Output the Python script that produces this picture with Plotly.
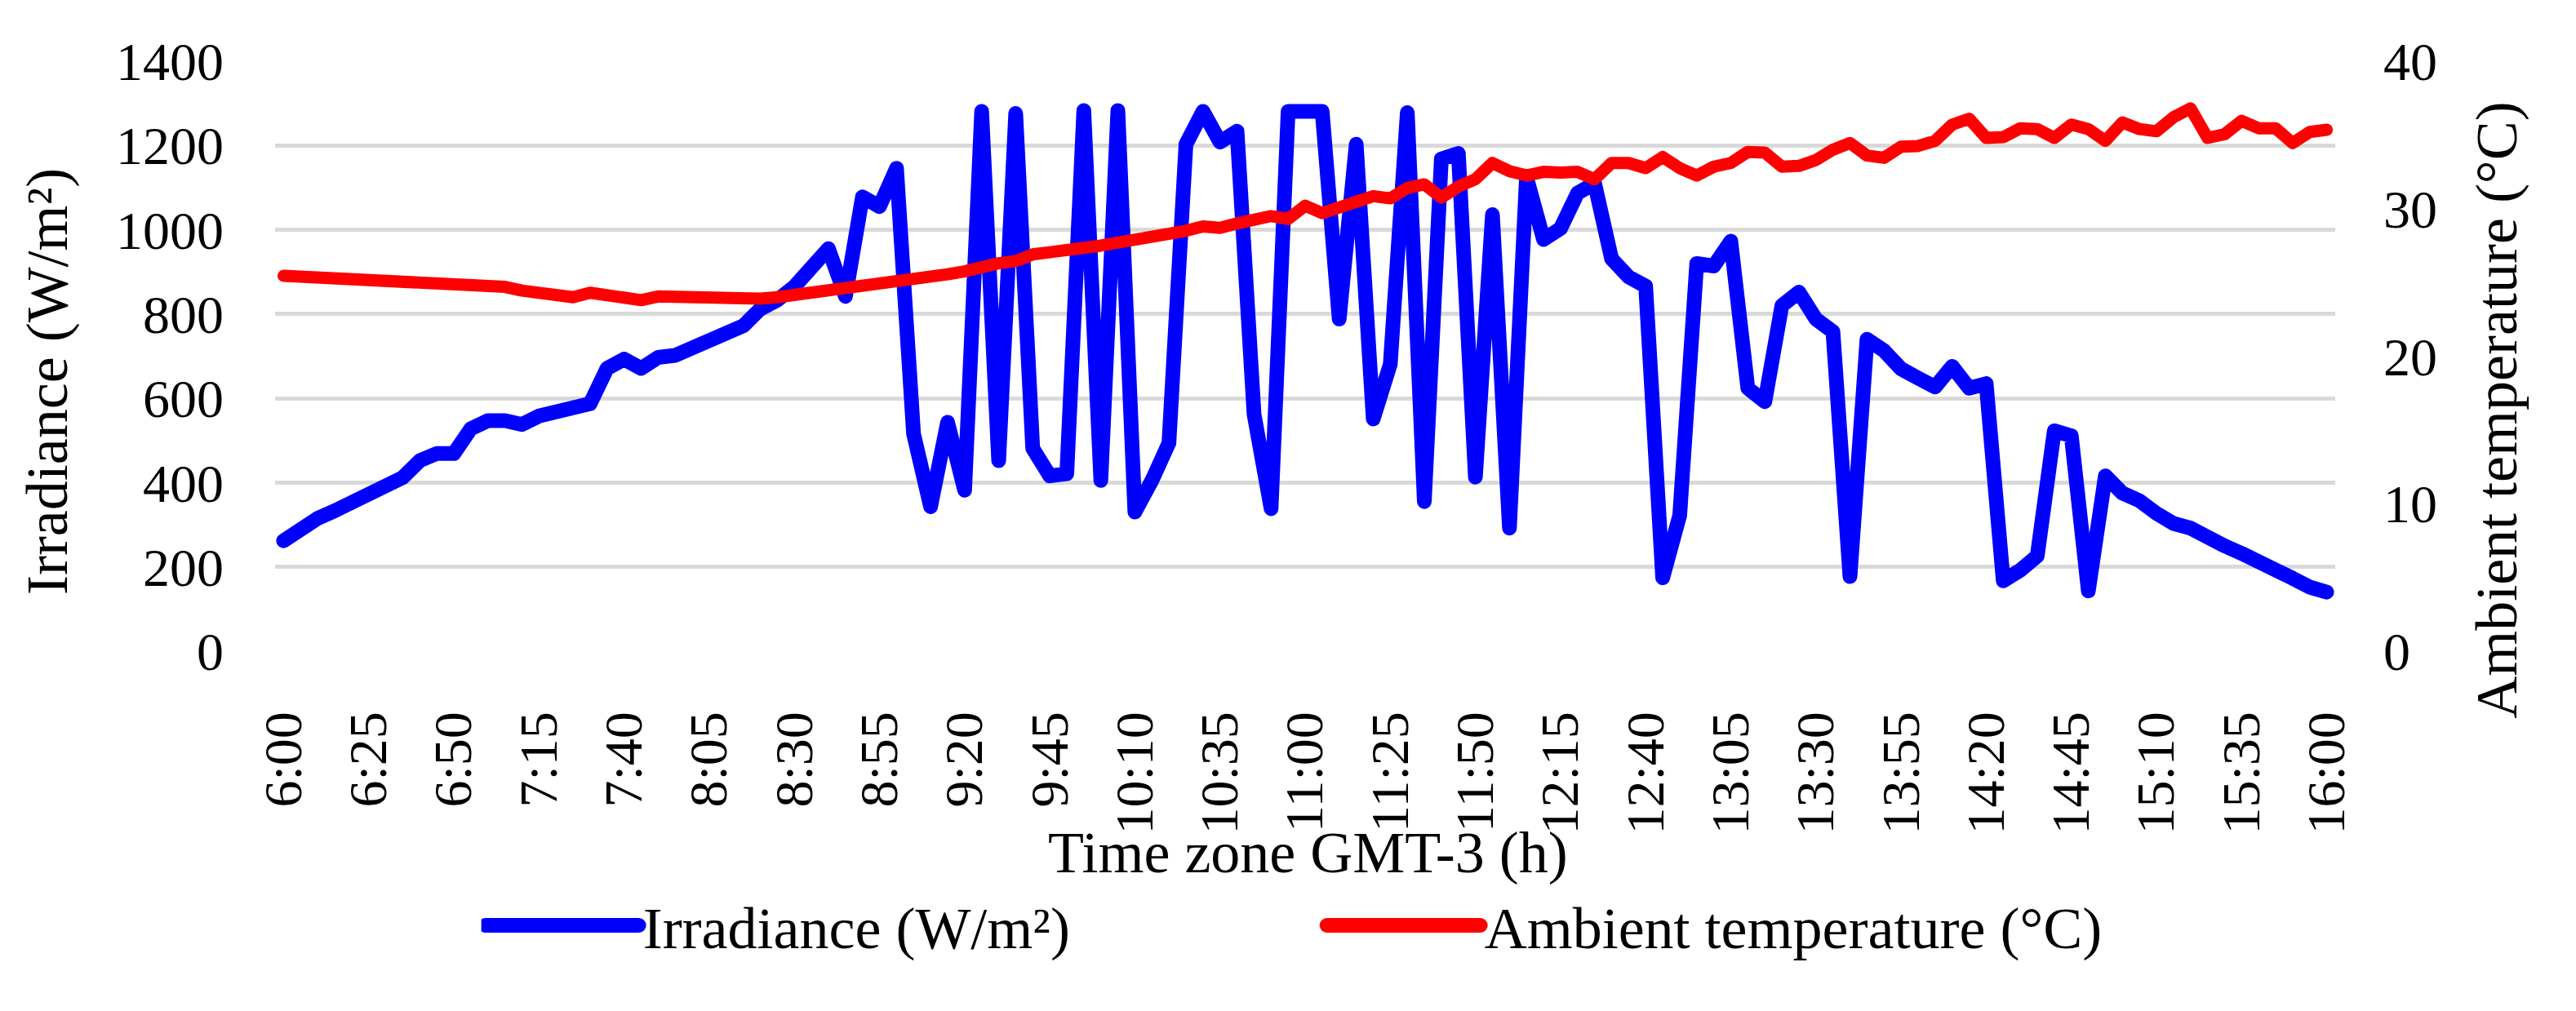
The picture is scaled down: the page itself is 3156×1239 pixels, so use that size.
import plotly.graph_objects as go

# Category axis: time of day, 5-minute steps (GMT-3)
TIMES = [
    "6:00","6:05","6:10","6:15","6:20","6:25","6:30","6:35","6:40","6:45","6:50","6:55",
    "7:00","7:05","7:10","7:15","7:20","7:25","7:30","7:35","7:40","7:45","7:50","7:55",
    "8:00","8:05","8:10","8:15","8:20","8:25","8:30","8:35","8:40","8:45","8:50","8:55",
    "9:00","9:05","9:10","9:15","9:20","9:25","9:30","9:35","9:40","9:45","9:50","9:55",
    "10:00","10:05","10:10","10:15","10:20","10:25","10:30","10:35","10:40","10:45","10:50","10:55",
    "11:00","11:05","11:10","11:15","11:20","11:25","11:30","11:35","11:40","11:45","11:50","11:55",
    "12:00","12:05","12:10","12:15","12:20","12:25","12:30","12:35","12:40","12:45","12:50","12:55",
    "13:00","13:05","13:10","13:15","13:20","13:25","13:30","13:35","13:40","13:45","13:50","13:55",
    "14:00","14:05","14:10","14:15","14:20","14:25","14:30","14:35","14:40","14:45","14:50","14:55",
    "15:00","15:05","15:10","15:15","15:20","15:25","15:30","15:35","15:40","15:45","15:50","15:55",
    "16:00",
]

TICK_LABELS = [
    "6:00","6:25","6:50","7:15","7:40","8:05","8:30","8:55","9:20","9:45",
    "10:10","10:35","11:00","11:25","11:50","12:15","12:40","13:05","13:30",
    "13:55","14:20","14:45","15:10","15:35","16:00",
]

# Irradiance (W/m²)
IRRADIANCE = [
    262, 290, 315, 333, 351, 370, 393, 412, 452, 469, 469, 528,
    547, 547, 538, 558, 568, 577, 587, 671, 693, 671, 697, 702,
    718, 738, 756, 772, 812, 833, 865, 905, 955, 842, 1078, 1055,
    1146, 516, 343, 543, 382, 1281, 452, 1276, 481, 416, 421, 1283,
    405, 1283, 330, 405, 494, 1203, 1281, 1208, 1234, 562, 338, 1281,
    1281, 1281, 788, 1203, 551, 681, 1278, 355, 1168, 1181, 413, 1036,
    292, 1125, 977, 1003, 1087, 1110, 931, 888, 866, 174, 322, 920,
    914, 973, 624, 592, 820, 852, 788, 758, 177, 740, 713, 670,
    648, 627, 676, 624, 635, 167, 192, 226, 523, 511, 143, 416,
    375, 357, 327, 303, 292, 268, 250, 232, 209, 191, 173, 152,
    140,
]

# Ambient temperature (°C)
TEMPERATURE = [
    25.45, 25.4, 25.3, 25.15, 25.1, 25.15, 25.15, 25.05, 24.95, 24.85, 24.85, 24.9,
    24.85, 24.7, 24.45, 24.25, 24.1, 24.0, 24.3, 24.2, 23.95, 23.8, 24.05, 24.0,
    23.9, 23.85, 23.8, 23.75, 23.9, 24.0, 24.15, 24.25, 24.5, 24.65, 24.75, 24.85,
    24.95, 25.05, 25.25, 25.55, 25.75, 26.1, 26.3, 26.45, 26.9, 27.05, 27.15, 27.4,
    27.5, 27.7, 27.85, 28.1, 28.25, 28.5, 28.8, 28.7, 29.0, 29.3, 29.5, 29.3,
    30.2, 29.7, 30.1, 30.35, 30.85, 30.7, 31.4, 31.65, 30.75, 31.5, 32.0, 33.1,
    32.55, 32.25, 32.5, 32.45, 32.5, 32.0, 33.1, 33.1, 32.75, 33.5, 32.75, 32.25,
    32.85, 33.1, 33.85, 33.8, 32.85, 32.9, 33.3, 34.0, 34.45, 33.6, 33.45, 34.2,
    34.25, 34.6, 35.7, 36.1, 34.8, 34.85, 35.45, 35.4, 34.8, 35.7, 35.4, 34.6,
    35.85, 35.4, 35.25, 36.2, 36.8, 34.8, 35.05, 35.95, 35.45, 35.45, 34.45, 35.2,
    35.35,
]

Y_TICKS = [0, 200, 400, 600, 800, 1000, 1200, 1400]
Y2_TICKS = [0, 10, 20, 30, 40]

FONT = "Liberation Serif"
TICK_SIZE = 66
TITLE_SIZE = 72
W, H = 3156, 1239
L, R, T, B = 337, 295, 75, 441

fig = go.Figure()
fig.add_trace(go.Scatter(
    x=TIMES, y=IRRADIANCE, mode="lines", name="Irradiance (W/m²)",
    line=dict(color="#0000FF", width=18), yaxis="y",
))
fig.add_trace(go.Scatter(
    x=TIMES, y=TEMPERATURE, mode="lines", name="Ambient temperature (°C)",
    line=dict(color="#FF0000", width=15), yaxis="y2",
))

fig.update_layout(
    width=W, height=H, autosize=False,
    margin=dict(l=L, r=R, t=T, b=B, pad=0),
    paper_bgcolor="white", plot_bgcolor="white",
    font=dict(family=FONT, size=TICK_SIZE, color="black"),
    showlegend=True,
    legend=dict(
        orientation="h", x=0.1001, xanchor="left", y=-0.465, yanchor="middle",
        font=dict(family=FONT, size=TITLE_SIZE, color="black"),
        itemwidth=188, entrywidth=828, entrywidthmode="pixels",
        bgcolor="rgba(0,0,0,0)",
    ),
    xaxis=dict(
        type="category", categoryorder="array", categoryarray=TIMES,
        range=[-0.5, len(TIMES) - 0.5],
        tickmode="array", tickvals=TICK_LABELS, ticktext=TICK_LABELS,
        tickangle=-90, ticks="", showgrid=False, zeroline=False, showline=False,
        tickfont=dict(family=FONT, size=TICK_SIZE, color="black"),
        ticklabelstandoff=60,
    ),
    yaxis=dict(
        range=[0, 1400], tickmode="array", tickvals=Y_TICKS,
        showgrid=True, gridcolor="#d9d9d9", gridwidth=5,
        zeroline=False, showline=False, ticks="",
        tickfont=dict(family=FONT, size=TICK_SIZE, color="black"),
        ticklabelstandoff=62,
    ),
    yaxis2=dict(
        range=[0, 40], tickmode="array", tickvals=Y2_TICKS,
        overlaying="y", side="right", showgrid=False,
        zeroline=False, showline=False, ticks="",
        tickfont=dict(family=FONT, size=TICK_SIZE, color="black"),
        ticklabelstandoff=58,
    ),
    annotations=[
        dict(text="Irradiance (W/m²)", xref="paper", yref="paper",
             x=-0.1108, y=0.4568, xanchor="center", yanchor="middle",
             textangle=-90, showarrow=False, font=dict(family=FONT, size=TITLE_SIZE)),
        dict(text="Ambient temperature (°C)", xref="paper", yref="paper",
             x=1.0785, y=0.4084, xanchor="center", yanchor="middle",
             textangle=-90, showarrow=False, font=dict(family=FONT, size=TITLE_SIZE)),
        dict(text="Time zone GMT-3 (h)", xref="paper", yref="paper",
             x=0.5012, y=-0.342, xanchor="center", yanchor="middle",
             showarrow=False, font=dict(family=FONT, size=TITLE_SIZE)),
    ],
)

post = """
document.body.style.margin='0';
document.body.style.overflow='hidden';
var gd = document.getElementById('{plot_id}');
function fixJoins(){
  document.querySelectorAll('.scatterlayer path.js-line').forEach(function(p){
    p.style.strokeLinejoin='round'; p.style.strokeLinecap='round';
  });
  document.querySelectorAll('.legend path.js-line').forEach(function(p){
    p.style.strokeWidth='18px'; p.style.strokeLinecap='round';
  });
}
fixJoins();
if (gd && gd.on) { gd.on('plotly_afterplot', fixJoins); }
"""

fig.write_html("out.html", post_script=post, config={"displayModeBar": False})
